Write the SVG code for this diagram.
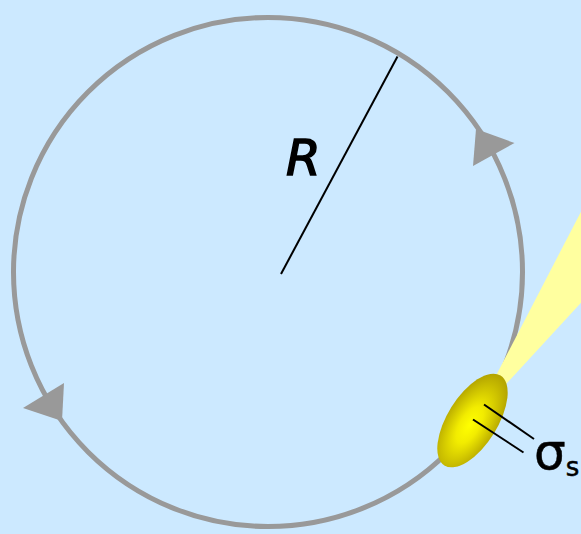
<svg xmlns="http://www.w3.org/2000/svg" width="581" height="534" viewBox="0 0 581 534">
<defs>
<radialGradient id="bunch" cx="0.45" cy="0.5" r="0.55">
<stop offset="0" stop-color="#FFFF00"/>
<stop offset="0.35" stop-color="#F2EC00"/>
<stop offset="1" stop-color="#B2A300"/>
</radialGradient>
<style>
.ring{fill:none;stroke:#999999;stroke-width:5}
.arrow{fill:#999999}
.thin{stroke:#000000;stroke-width:2;fill:none}
.lbl{fill:#000000;stroke:#000000;font-family:"DejaVu Sans","Liberation Sans",sans-serif}
</style>
</defs>
<rect x="0" y="0" width="581" height="534" fill="#CCE9FF"/>
<g id="ring">
<circle class="ring" cx="268" cy="272" r="254.5"/>
</g>
<g id="connectors">
<polygon class="arrow" points="476,129 514.5,143 473,166"/>
<polygon class="arrow" points="23,408 64,383 62,421"/>
<line class="thin" x1="281" y1="274" x2="397.5" y2="56.5"/>
</g>
<g id="beam">
<polygon points="473,420 600,175 600,282" fill="#FFFF9F"/>
</g>
<g id="bunch-node">
<ellipse cx="0" cy="0" rx="53" ry="25" fill="url(#bunch)" transform="translate(472.5,420.5) rotate(-58)"/>
</g>
<g id="bunch-lines">
<line class="thin" x1="484" y1="404.5" x2="534" y2="439"/>
<line class="thin" x1="473" y1="419.5" x2="523.5" y2="452.5"/>
</g>
<g id="label-R">
<text class="lbl" x="286" y="175" font-size="50" font-style="italic" stroke-width="1.5" font-family="Liberation Sans, sans-serif">R</text>
</g>
<g id="label-sigma">
<text class="lbl" x="534" y="469" font-size="50" stroke-width="0.5">σ<tspan font-size="26" dy="7">s</tspan></text>
</g>
</svg>
